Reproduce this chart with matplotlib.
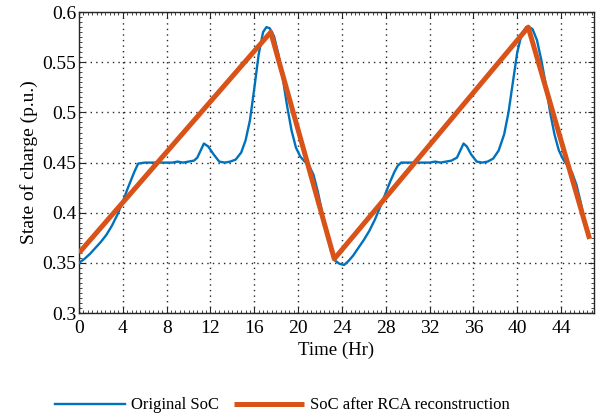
"""
State of charge: original profile vs RCA reconstruction.
"""
import matplotlib
matplotlib.use("Agg")
import matplotlib.pyplot as plt
from matplotlib.ticker import AutoMinorLocator

# original SoC profile
orig_t = [0, 0.5, 1, 1.5, 2, 2.5, 3, 3.5, 4, 4.4, 4.8, 5.1, 5.4, 6, 7, 8, 8.5,
          9, 9.5, 10, 10.5, 10.8, 11.1, 11.4, 11.8, 12.3, 12.8, 13.3, 13.8, 14.3,
          14.8, 15.2, 15.6, 16.0, 16.4, 16.8, 17.1, 17.4, 17.8, 18.2, 18.6, 19.0,
          19.4, 19.8, 20.2, 20.6, 21.0, 21.4, 21.8, 22.2, 22.6, 23.0, 23.4, 23.8,
          24.2, 24.6, 25, 25.5, 26, 26.5, 27, 27.5, 28, 28.4, 28.8, 29.1, 29.4,
          30, 31, 32, 32.5, 33, 33.5, 34, 34.5, 34.8, 35.1, 35.4, 35.8, 36.3, 36.8,
          37.3, 37.8, 38.3, 38.8, 39.2, 39.6, 40.0, 40.4, 40.8, 41.1, 41.4, 41.8,
          42.2, 42.6, 43.0, 43.4, 43.8, 44.2, 44.6, 45.0, 45.4, 45.8, 46.2, 46.5]
orig_soc = [0.350, 0.354, 0.359, 0.365, 0.371, 0.378, 0.387, 0.398, 0.411, 0.423,
            0.434, 0.442, 0.449, 0.450, 0.450, 0.450, 0.450, 0.451, 0.450, 0.451,
            0.452, 0.455, 0.462, 0.469, 0.466, 0.458, 0.451, 0.450, 0.451, 0.453,
            0.460, 0.472, 0.492, 0.524, 0.558, 0.580, 0.585, 0.584, 0.576, 0.558,
            0.534, 0.506, 0.482, 0.465, 0.456, 0.451, 0.447, 0.438, 0.421, 0.400,
            0.380, 0.362, 0.352, 0.349, 0.348, 0.352, 0.357, 0.365, 0.373, 0.382,
            0.393, 0.406, 0.420, 0.431, 0.441, 0.447, 0.450, 0.450, 0.450, 0.450,
            0.451, 0.450, 0.451, 0.452, 0.455, 0.462, 0.469, 0.466, 0.458, 0.451,
            0.450, 0.451, 0.454, 0.462, 0.478, 0.500, 0.530, 0.560, 0.578, 0.585,
            0.585, 0.583, 0.572, 0.552, 0.528, 0.500, 0.478, 0.462, 0.453, 0.447,
            0.440, 0.428, 0.410, 0.388, 0.375]

# piecewise-linear reconstruction (RCA)
rca_t = [0, 17.5, 23.3, 41.0, 46.6]
rca_soc = [0.360, 0.580, 0.354, 0.585, 0.374]

x_ticks = [0, 4, 8, 12, 16, 20, 24, 28, 32, 36, 40, 44]
y_ticks = [0.3, 0.35, 0.4, 0.45, 0.5, 0.55, 0.6]
y_labels = ["0.3", "0.35", "0.4", "0.45", "0.5", "0.55", "0.6"]

plt.rcParams["font.family"] = ["Liberation Serif", "DejaVu Serif"]

fig = plt.figure(figsize=(6.03, 4.18), dpi=100)
ax = fig.add_axes([0.131, 0.251, 0.854, 0.720])

ax.plot(orig_t, orig_soc, color="#0072BD", lw=1.7, label="Original SoC",
        zorder=3)
ax.plot(rca_t, rca_soc, color="#D95319", lw=3.6, label="SoC after RCA reconstruction",
        zorder=4, solid_capstyle="butt")

ax.set_xlim(0, 47)
ax.set_ylim(0.3, 0.6)
ax.set_xticks(x_ticks)
ax.set_yticks(y_ticks)
ax.set_yticklabels(y_labels)
ax.xaxis.set_minor_locator(AutoMinorLocator(10))
ax.yaxis.set_minor_locator(AutoMinorLocator(10))

ax.tick_params(which="both", direction="in", top=True, right=True,
               labelsize=14, color="#262626", pad=2)
ax.tick_params(axis="x", which="major", pad=5)
ax.tick_params(which="major", length=4, width=0.8)
ax.tick_params(which="minor", length=2, width=0.6)
ax.grid(True, which="major", linestyle=(0, (1, 3)), color="black", lw=1.0,
        alpha=0.85)
for sp in ax.spines.values():
    sp.set_linewidth(1.0)
    sp.set_color("#262626")

ax.set_xlabel("Time (Hr)", fontsize=13.5, labelpad=3)
ax.set_ylabel("State of charge (p.u.)", fontsize=14, labelpad=3)

fig.legend(loc="center", bbox_to_anchor=(0.468, 0.03), ncol=2, frameon=False,
           fontsize=12, handlelength=4.2, handletextpad=0.35, columnspacing=0.9)

fig.savefig("out.png", dpi=100)
